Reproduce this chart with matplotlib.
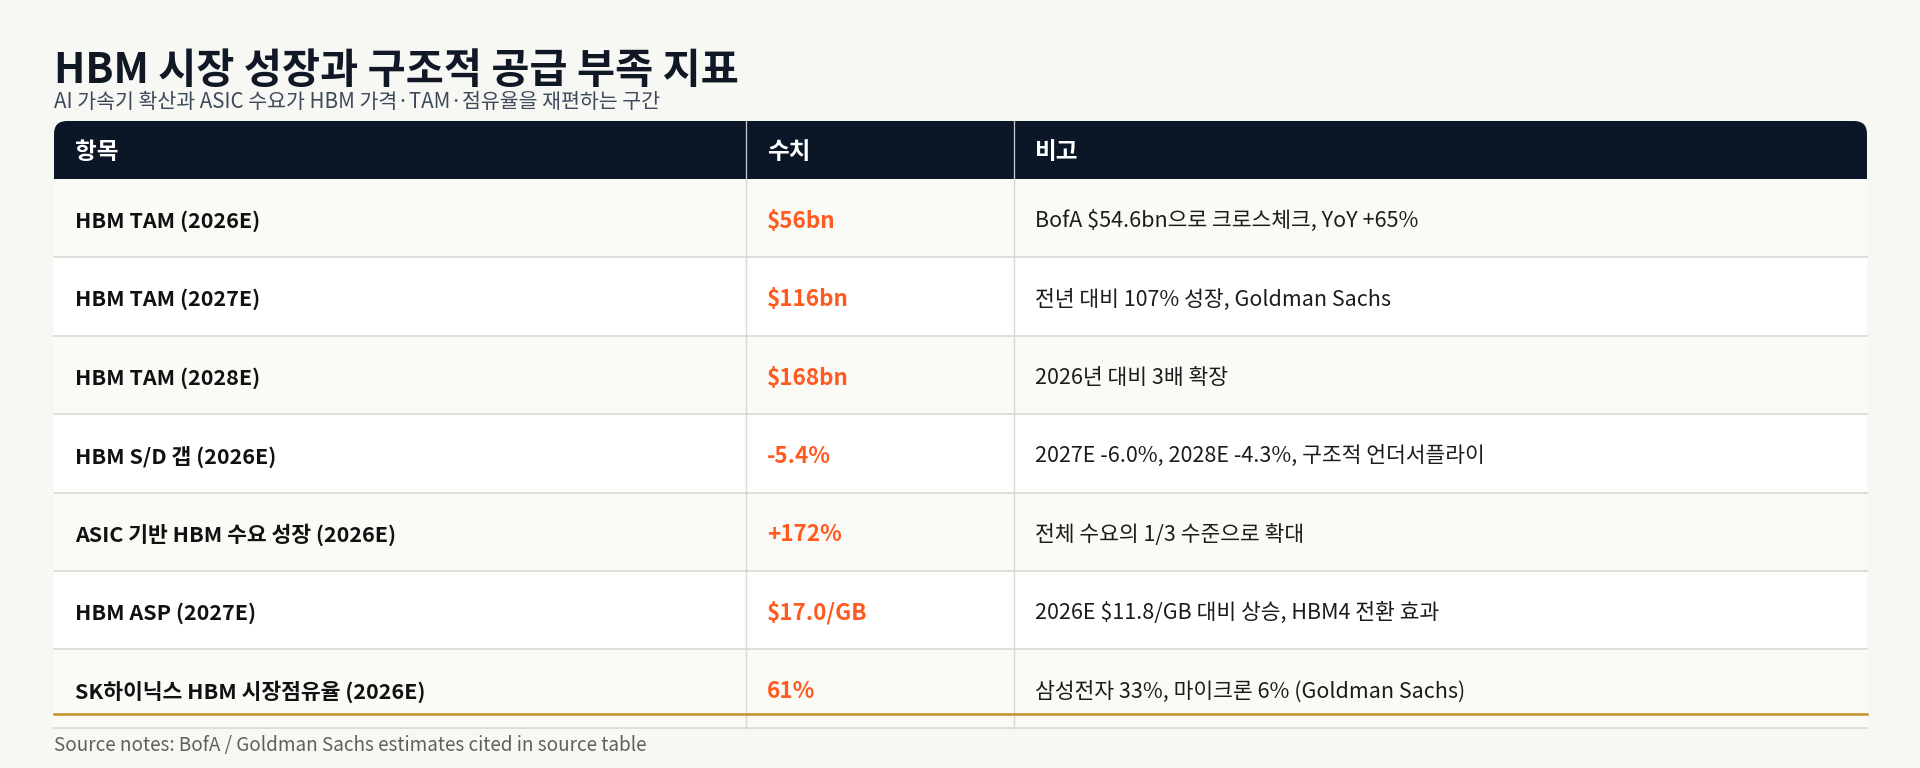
import matplotlib.pyplot as plt
from matplotlib.patches import FancyBboxPatch, Rectangle

plt.rcParams['font.family'] = ['Noto Sans CJK KR', 'DejaVu Sans']

title = 'HBM 시장 성장과 구조적 공급 부족 지표'
subtitle = 'AI 가속기 확산과 ASIC 수요가 HBM 가격·TAM·점유율을 재편하는 구간'
headers = ['항목', '수치', '비고']
items = ['HBM TAM (2026E)', 'HBM TAM (2027E)', 'HBM TAM (2028E)', 'HBM S/D 갭 (2026E)',
         'ASIC 기반 HBM 수요 성장 (2026E)', 'HBM ASP (2027E)', 'SK하이닉스 HBM 시장점유율 (2026E)']
values = ['$56bn', '$116bn', '$168bn', '-5.4%', '+172%', '$17.0/GB', '61%']
notes = ['BofA $54.6bn으로 크로스체크, YoY +65%',
         '전년 대비 107% 성장, Goldman Sachs',
         '2026년 대비 3배 확장',
         '2027E -6.0%, 2028E -4.3%, 구조적 언더서플라이',
         '전체 수요의 1/3 수준으로 확대',
         '2026E $11.8/GB 대비 상승, HBM4 전환 효과',
         '삼성전자 33%, 마이크론 6% (Goldman Sachs)']
source = 'Source notes: BofA / Goldman Sachs estimates cited in source table'

W, H = 1920, 768
bg = '#f7f7f3'
navy = '#0b1626'
orange = '#ff5a1f'
grid = '#d9d9d2'

fig = plt.figure(figsize=(W / 100, H / 100), dpi=100, facecolor=bg)
ax = fig.add_axes([0, 0, 1, 1])
ax.set_xlim(0, W)
ax.set_ylim(H, 0)
ax.axis('off')

# table geometry (pixels)
left, right = 54, 1867
col_x = [left, 746, 1014, right]
head_top, head_bot = 121, 179
row_h = 78.4
pad = 21

# titles
ax.text(left, 83, title, fontsize=29.8, fontweight='bold', color='#101826', va='baseline')
ax.text(left, 108, subtitle, fontsize=14.8, color='#3e4a5c', va='baseline')

# header
ax.add_patch(FancyBboxPatch((left, head_top), right - left, head_bot - head_top,
                            boxstyle='round,pad=0,rounding_size=13', fc=navy, ec='none'))
ax.add_patch(Rectangle((left, head_top + 20), right - left, head_bot - head_top - 20,
                       fc=navy, ec='none'))
for i, h in enumerate(headers):
    ax.text(col_x[i] + pad, (head_top + head_bot) / 2 + 2, h, fontsize=17,
            fontweight='bold', color='white', va='center')
for x in col_x[1:3]:
    ax.plot([x, x], [head_top, head_bot], color='#c9ccd2', lw=0.9)

# rows
n = len(items)
body_bot = head_bot + n * row_h
for i in range(n):
    y0 = head_bot + i * row_h
    fc = '#fafaf6' if i % 2 == 0 else '#ffffff'
    ax.add_patch(Rectangle((left, y0), right - left, row_h, fc=fc, ec='none'))
    yc = y0 + row_h / 2 + 3
    ax.text(col_x[0] + pad, yc, items[i], fontsize=15.5, fontweight='bold',
            color='#111111', va='center')
    ax.text(col_x[1] + pad, yc, values[i], fontsize=16.2, fontweight='bold',
            color=orange, va='center')
    ax.text(col_x[2] + pad, yc, notes[i], fontsize=15.5, color='#1c1c1c', va='center')
    ax.plot([left, right], [y0 + row_h, y0 + row_h], color=grid, lw=1.2)

for x in col_x[1:3]:
    ax.plot([x, x], [head_bot, body_bot], color=grid, lw=1.0)

# bottom accent line
ax.plot([left, right], [714, 714], color='#c8922a', lw=1.8)

ax.text(left, 751, source, fontsize=13.6, color='#5f5f5f', va='baseline')

fig.savefig('out.png', dpi=100, facecolor=bg)
